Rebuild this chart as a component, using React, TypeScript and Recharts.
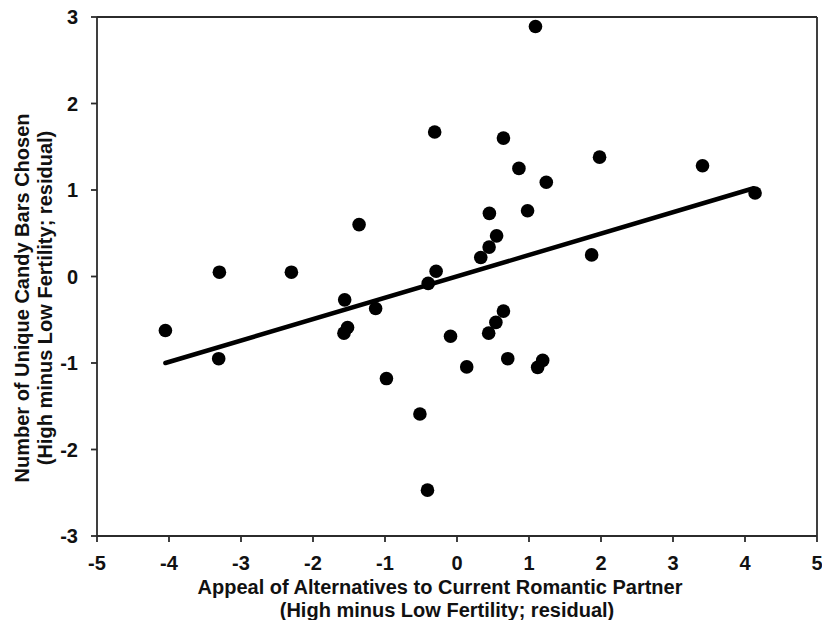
import React from "react";
import { ScatterChart, Scatter, XAxis, YAxis, ReferenceLine, Label } from "recharts";

// residual scores, one entry per participant
const appeal = [
  -4.05, -3.3, -3.31, -2.3, -1.56, -1.52, -1.57, -1.36, -1.13, -0.98, -0.515, -0.41,
  -0.4, -0.31, -0.29, -0.09, 0.135, 0.33, 0.446, 0.44, 0.45, 0.55, 0.54, 0.645,
  0.645, 0.705, 0.86, 0.98, 1.09, 1.12, 1.19, 1.24, 1.87, 1.98, 3.41, 4.14,
];
const candyBars = [
  -0.625, 0.05, -0.95, 0.05, -0.27, -0.59, -0.655, 0.6, -0.37, -1.18, -1.59, -2.47,
  -0.08, 1.67, 0.06, -0.69, -1.045, 0.22, 0.34, -0.655, 0.73, 0.47, -0.53, 1.6,
  -0.4, -0.95, 1.25, 0.76, 2.89, -1.05, -0.97, 1.09, 0.25, 1.38, 1.28, 0.965,
];

// regression line ends
const fitX = [-4.05, 4.12];
const fitY = [-1.0, 1.02];

const xTicks = [-5, -4, -3, -2, -1, 0, 1, 2, 3, 4, 5];
const yTicks = [-3, -2, -1, 0, 1, 2, 3];

const xTitle = ["Appeal of Alternatives to Current Romantic Partner", "(High minus Low Fertility; residual)"];
const yTitle = ["Number of Unique Candy Bars Chosen", "(High minus Low Fertility; residual)"];

const points = appeal.map((x, i) => ({ x, y: candyBars[i] }));

const FONT = "'Liberation Sans', Arial, sans-serif";
const AXIS = "#2b2b2b";

const titleStyle = { fontFamily: FONT, fontSize: 20, fontWeight: 700, fill: "#111" };

const XTitle = () => (
  <g>
    <text x={440} y={594} textAnchor="middle" style={titleStyle}>{xTitle[0]}</text>
    <text x={447} y={617} textAnchor="middle" style={titleStyle}>{xTitle[1]}</text>
  </g>
);

const YTitle = () => (
  <g>
    <text transform="translate(29,298) rotate(-90)" textAnchor="middle" style={titleStyle}>{yTitle[0]}</text>
    <text transform="translate(52,298) rotate(-90)" textAnchor="middle" style={titleStyle}>{yTitle[1]}</text>
  </g>
);

const Dot = (p: any) => <circle cx={p.cx} cy={p.cy} r={6.8} fill="#000" />;

const tickStyle = { fontFamily: FONT, fontSize: 20, fontWeight: 700, fill: "#111" };

export default function App() {
  return (
    <div style={{ position: "absolute", left: 0, top: 0 }}>
      <ScatterChart width={822} height={620} margin={{ top: 17, right: 5, left: 0, bottom: 0 }}>
        <XAxis
          type="number"
          dataKey="x"
          domain={[-5, 5]}
          ticks={xTicks}
          height={84}
          tickSize={6}
          tickMargin={14}
          tick={tickStyle}
          stroke={AXIS}
          strokeWidth={1.8}
          allowDataOverflow
        >
          <Label content={() => <XTitle />} />
        </XAxis>
        <YAxis
          type="number"
          dataKey="y"
          domain={[-3, 3]}
          ticks={yTicks}
          width={97}
          tickSize={6}
          tickMargin={13}
          tick={tickStyle}
          stroke={AXIS}
          strokeWidth={1.8}
          allowDataOverflow
        >
          <Label content={() => <YTitle />} />
        </YAxis>
        <ReferenceLine y={3} stroke={AXIS} strokeWidth={1.8} />
        <ReferenceLine x={5} stroke={AXIS} strokeWidth={1.8} />
        <Scatter data={points} shape={Dot} isAnimationActive={false} />
        <ReferenceLine
          segment={[{ x: fitX[0], y: fitY[0] }, { x: fitX[1], y: fitY[1] }]}
          stroke="#000"
          strokeWidth={4.5}
          strokeLinecap="round"
        />
      </ScatterChart>
    </div>
  );
}
